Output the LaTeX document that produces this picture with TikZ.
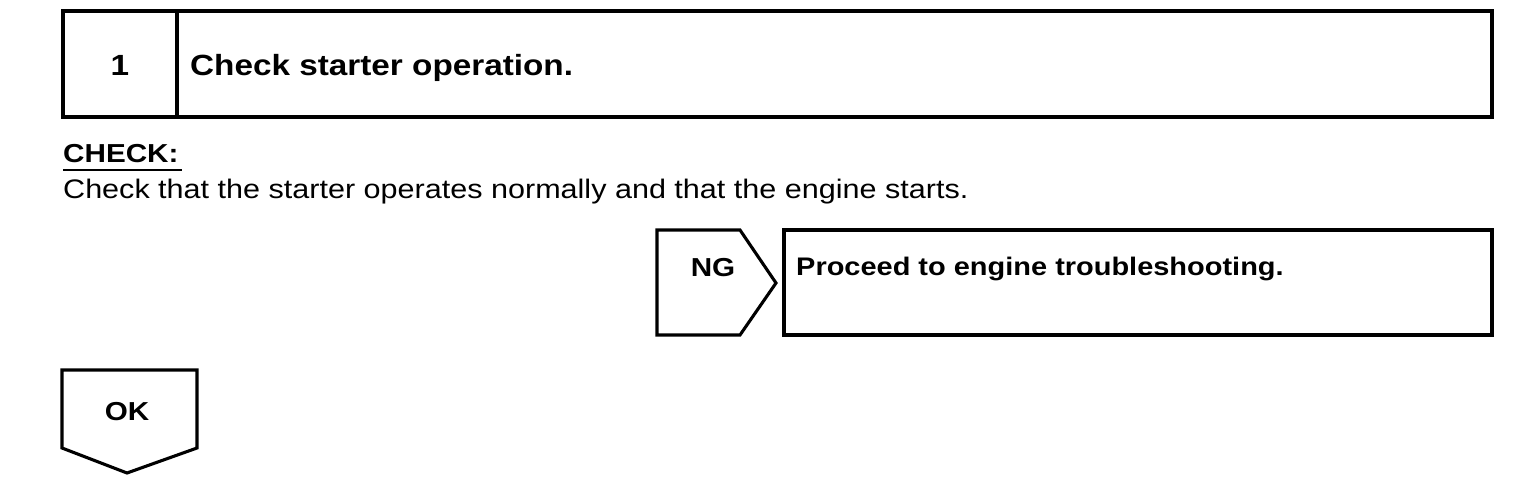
\documentclass[tikz,border=0pt]{standalone}
\usepackage{fontspec}
\setmainfont{Liberation Sans}[FakeStretch=1.14]
\begin{document}
\begin{tikzpicture}[x=1pt,y=-1pt,
  frame/.style={draw=black,line width=3.1pt,line join=miter},
  txt/.style={inner sep=0pt,anchor=base west},
  ctxt/.style={inner sep=0pt,anchor=base},
  big/.style={font=\fontsize{29.2}{32}\selectfont\bfseries},
  mid/.style={font=\fontsize{26}{30}\selectfont\bfseries},
  prc/.style={font=\fontsize{25.4}{30}\selectfont\bfseries},
  reg/.style={font=\fontsize{26.8}{30}\selectfont}]
\useasboundingbox (0,0) rectangle (1520,490);
% top box
\coordinate (tl) at (63,11);
\coordinate (br) at (1492,117);
\draw[frame] (tl) rectangle (br);
\draw[frame] (177,11) -- (177,117);
\node[ctxt,big] (num) at (120,75) {1};
\node[txt,big] (title) at (190,75) {Check starter operation.};
% check
\node[txt,mid] (chk) at (63,162) {CHECK:};
\draw[line width=2.2pt] (63,170) -- (182,170);
\node[txt,reg] (body) at (63,198) {Check that the starter operates normally and that the engine starts.};
% NG
\draw[frame] (657,230) -- (740,230) -- (776,283) -- (740,335) -- (657,335) -- cycle;
\node[ctxt,mid] (ng) at (713,276) {NG};
\draw[frame] (784,230) rectangle (1492,335);
\node[txt,prc] (proc) at (796,275) {Proceed to engine troubleshooting.};
% OK
\draw[frame] (62,370) -- (197,370) -- (197,448) -- (127,473) -- (62,448) -- cycle;
\node[ctxt,mid] (ok) at (127,420) {OK};
\end{tikzpicture}
\end{document}
